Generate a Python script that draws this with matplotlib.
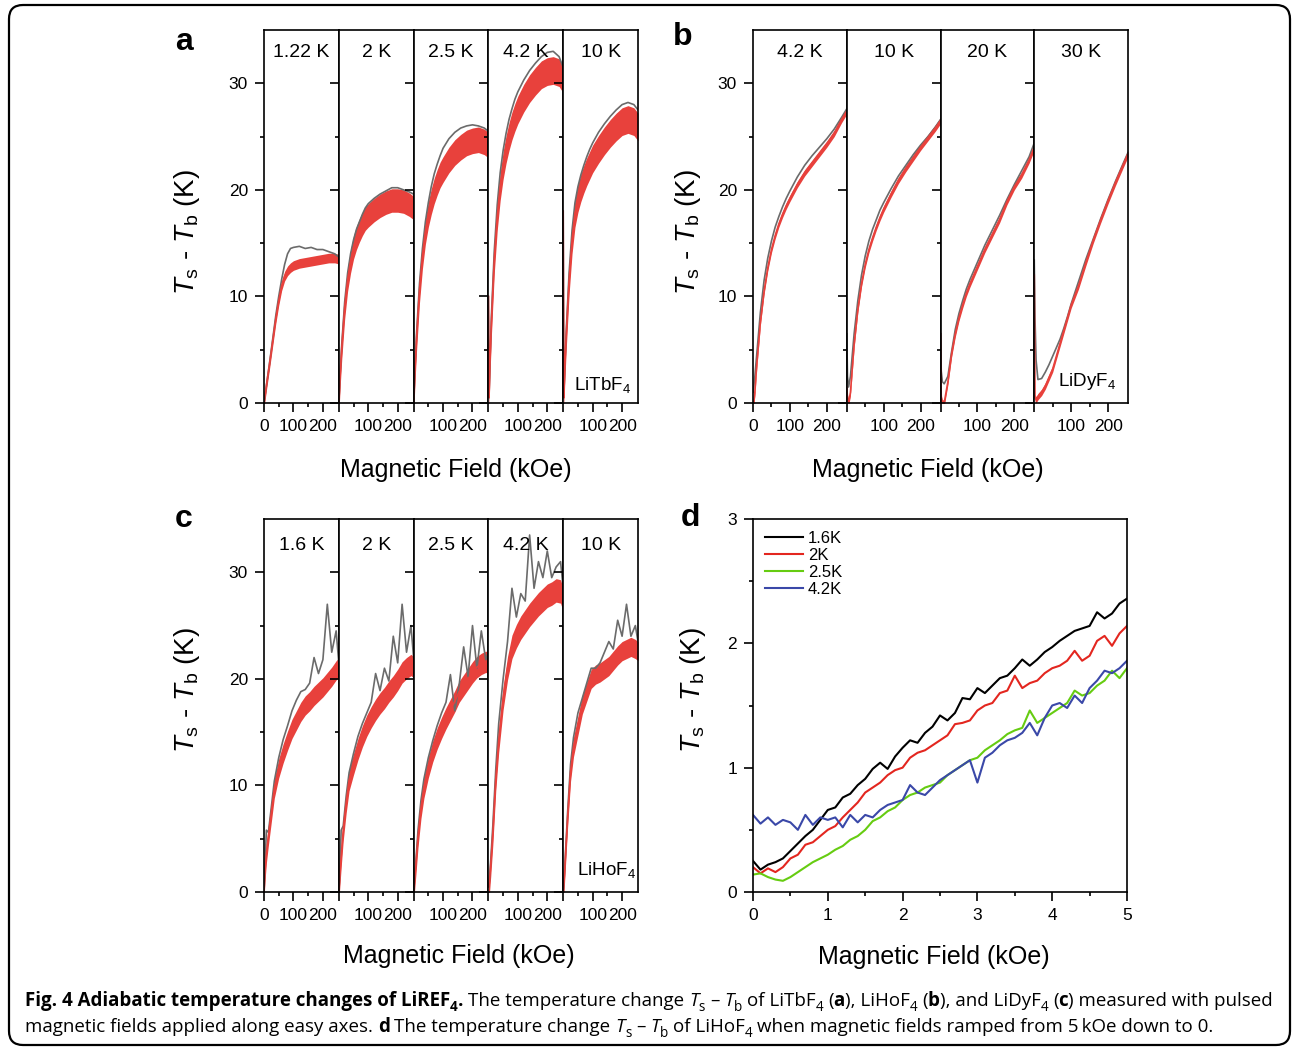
import numpy as np
import matplotlib
matplotlib.use('Agg')
import matplotlib.pyplot as plt
from matplotlib.patches import FancyBboxPatch
from matplotlib.transforms import IdentityTransform

plt.rcParams['font.family'] = ['Liberation Sans', 'DejaVu Sans']
plt.rcParams['mathtext.fontset'] = 'custom'
plt.rcParams['mathtext.rm'] = 'Liberation Sans'
plt.rcParams['mathtext.it'] = 'Liberation Sans:italic'
plt.rcParams['mathtext.bf'] = 'Liberation Sans:bold'

# ---- data ----
# field grid (kOe) for the pulsed-field panels a and b
field_ab = [0, 2, 5, 10, 20, 30, 40, 50, 60, 70, 80, 90, 100, 120, 140, 160, 180, 200, 220, 240, 254]

# panel a: LiTbF4
temps_a = ['1.22 K', '2 K', '2.5 K', '4.2 K', '10 K']
a_122_gray = [0, 0.4, 1.0, 2.0, 4.0, 6.1, 8.2, 10.0, 11.6, 13.0, 14.0, 14.5, 14.6, 14.7, 14.5, 14.6, 14.4, 14.4, 14.2, 14.0, 13.7]
a_122_red = [0, 0.4, 1.0, 2.0, 3.9, 5.9, 7.9, 9.6, 11.0, 11.9, 12.4, 12.7, 12.9, 13.1, 13.2, 13.3, 13.4, 13.5, 13.6, 13.6, 13.5]
a_2_gray = [0, 1.2, 3.0, 5.5, 9.5, 12.2, 14.0, 15.3, 16.3, 17.0, 17.7, 18.3, 18.7, 19.2, 19.6, 19.9, 20.2, 20.2, 20.0, 19.8, 19.6]
a_2_red = [0, 1.1, 2.8, 5.2, 9.0, 11.6, 13.3, 14.6, 15.5, 16.2, 16.8, 17.3, 17.6, 18.1, 18.5, 18.8, 19.0, 19.0, 18.9, 18.6, 18.3]
a_25_gray = [0, 1.4, 3.5, 6.5, 11.2, 14.5, 17.0, 18.8, 20.3, 21.5, 22.4, 23.2, 23.9, 24.8, 25.4, 25.8, 26.0, 26.1, 26.0, 25.8, 25.5]
a_25_red = [0, 1.3, 3.3, 6.1, 10.6, 13.8, 16.1, 17.7, 18.9, 19.9, 20.7, 21.4, 21.9, 22.8, 23.5, 24.0, 24.4, 24.6, 24.7, 24.5, 24.2]
a_42_gray = [10, 0.5, 3.8, 8.0, 14.3, 18.6, 21.6, 23.7, 25.3, 26.6, 27.6, 28.5, 29.2, 30.3, 31.2, 31.9, 32.5, 32.9, 33.0, 32.5, 31.5]
a_42_red = [10, 0.5, 3.5, 7.5, 13.5, 17.5, 20.3, 22.3, 23.8, 25.0, 26.0, 26.8, 27.5, 28.6, 29.5, 30.2, 30.8, 31.1, 31.2, 31.0, 30.4]
a_10_gray = [18, 0.5, 3.2, 6.6, 12.2, 16.2, 18.8, 20.3, 21.4, 22.3, 23.1, 23.8, 24.4, 25.4, 26.2, 26.9, 27.5, 28.0, 28.2, 28.0, 27.5]
a_10_red = [18, 0.5, 3.0, 6.2, 11.5, 15.3, 17.8, 19.2, 20.2, 21.0, 21.7, 22.3, 22.9, 23.8, 24.6, 25.3, 25.9, 26.4, 26.6, 26.4, 25.9]
a_noise = [0.45, 1.1, 1.2, 1.3, 1.3]   # half width of the red noise band

# panel b: LiDyF4
temps_b = ['4.2 K', '10 K', '20 K', '30 K']
b_42_gray = [1.0, 1.5, 2.5, 4.5, 8.5, 11.5, 13.6, 15.2, 16.5, 17.5, 18.4, 19.2, 19.9, 21.2, 22.3, 23.2, 24.0, 24.8, 25.7, 26.8, 27.6]
b_42_red = [0, 0, 1.0, 3.5, 7.6, 10.5, 12.7, 14.4, 15.7, 16.8, 17.7, 18.5, 19.2, 20.5, 21.6, 22.5, 23.4, 24.3, 25.3, 26.6, 27.4]
b_10_gray = [6.5, 2.5, 1.5, 2.5, 6.5, 9.6, 12.0, 13.8, 15.2, 16.3, 17.2, 18.1, 18.8, 20.1, 21.3, 22.3, 23.3, 24.2, 25.0, 25.9, 26.6]
b_10_red = [1.5, 0.5, 0, 1.0, 5.5, 8.8, 11.2, 13.0, 14.4, 15.5, 16.5, 17.4, 18.2, 19.6, 20.9, 22.0, 23.0, 24.0, 24.9, 25.8, 26.5]
b_20_gray = [6.5, 3.0, 2.0, 1.8, 2.5, 4.8, 6.9, 8.4, 9.6, 10.7, 11.6, 12.4, 13.2, 14.8, 16.2, 17.6, 19.1, 20.5, 21.8, 23.1, 24.4]
b_20_red = [6.5, 0.5, 0, 0, 2.0, 4.6, 6.5, 8.0, 9.2, 10.3, 11.2, 12.0, 12.8, 14.4, 15.8, 17.2, 18.9, 20.3, 21.4, 22.8, 24.0]
b_30_gray = [13.4, 8.0, 4.0, 2.2, 2.3, 2.9, 3.6, 4.4, 5.2, 6.0, 7.0, 8.1, 9.3, 11.4, 13.5, 15.4, 17.3, 19.1, 20.8, 22.4, 23.5]
b_30_red = [12.0, 0.5, 0.3, 0.6, 1.0, 1.6, 2.4, 3.2, 4.4, 5.6, 6.8, 8.0, 9.2, 11.0, 13.2, 15.3, 17.2, 19.0, 20.7, 22.3, 23.4]
b_noise = [0.3, 0.3, 0.3, 0.3]

# panel c: LiHoF4 (own field grid)
field_c = [0, 3, 8, 15, 25, 35, 50, 65, 80, 95, 110, 125, 140, 155, 170, 185, 200, 215, 230, 245, 254]
temps_c = ['1.6 K', '2 K', '2.5 K', '4.2 K', '10 K']
c_16_gray = [0, 2.0, 5.8, 5.6, 8.0, 10.4, 12.6, 14.3, 15.6, 17.0, 18.0, 18.8, 19.0, 19.6, 22.0, 20.5, 21.8, 27.0, 22.5, 24.5, 21.5]
c_16_red = [0, 1.8, 3.6, 5.3, 7.5, 9.7, 11.6, 13.0, 14.2, 15.3, 16.1, 16.9, 17.5, 17.9, 18.4, 18.8, 19.2, 19.7, 20.2, 20.8, 21.1]
c_2_gray = [0, 1.5, 5.8, 6.2, 9.0, 11.2, 13.0, 14.6, 15.8, 16.8, 17.8, 20.5, 18.9, 21.0, 19.8, 24.0, 21.5, 27.0, 22.5, 25.0, 22.0]
c_2_red = [0, 1.3, 3.3, 5.8, 8.4, 10.5, 12.0, 13.4, 14.6, 15.6, 16.4, 17.1, 17.7, 18.2, 18.8, 19.3, 19.9, 20.6, 21.0, 21.3, 21.1]
c_25_gray = [0, 1.2, 3.0, 5.8, 8.6, 10.6, 12.6, 14.2, 15.6, 16.8, 17.8, 20.4, 17.0, 19.5, 23.0, 20.2, 25.0, 21.0, 24.5, 21.8, 22.5]
c_25_red = [0, 1.0, 2.7, 5.2, 7.9, 9.8, 11.7, 13.2, 14.4, 15.4, 16.3, 17.1, 17.9, 18.8, 19.4, 20.0, 20.6, 21.1, 21.4, 21.6, 21.5]
c_42_gray = [0.5, 1.0, 3.0, 6.2, 11.5, 15.8, 20.0, 23.5, 28.5, 25.8, 28.0, 27.3, 33.5, 28.5, 31.0, 29.5, 32.0, 29.5, 30.5, 31.0, 28.5]
c_42_red = [0.5, 0.8, 2.6, 5.5, 10.6, 14.2, 18.2, 21.0, 23.0, 24.0, 24.8, 25.4, 26.0, 26.5, 27.0, 27.4, 27.8, 28.0, 28.3, 28.2, 27.4]
c_10_gray = [0, 1.2, 3.8, 7.5, 12.0, 14.5, 16.8, 18.2, 19.6, 21.0, 21.0, 21.5, 22.5, 23.5, 22.8, 25.5, 24.0, 27.0, 24.0, 25.0, 23.5]
c_10_red = [0, 1.0, 3.5, 7.0, 11.3, 13.6, 15.6, 17.6, 18.8, 20.0, 20.4, 20.6, 20.9, 21.2, 21.7, 22.2, 22.6, 22.8, 23.0, 22.8, 22.6]
c_noise = [0.9, 1.0, 1.0, 1.1, 0.9]

# panel d: LiHoF4, field ramped 5 kOe -> 0
field_d = [round(0.1 * i, 1) for i in range(51)]
d_16 = [0.25, 0.18, 0.22, 0.24, 0.27, 0.33, 0.39, 0.45, 0.50, 0.58, 0.66, 0.68, 0.76, 0.79, 0.86, 0.91, 0.99,
        1.04, 0.99, 1.09, 1.16, 1.22, 1.20, 1.28, 1.33, 1.42, 1.38, 1.44, 1.56, 1.55, 1.64, 1.60, 1.66, 1.72,
        1.74, 1.80, 1.87, 1.82, 1.87, 1.93, 1.97, 2.02, 2.06, 2.10, 2.12, 2.14, 2.25, 2.20, 2.24, 2.32, 2.36]
d_2 = [0.20, 0.15, 0.19, 0.16, 0.20, 0.27, 0.30, 0.38, 0.40, 0.45, 0.50, 0.53, 0.60, 0.66, 0.72, 0.80, 0.84,
       0.88, 0.94, 0.98, 1.00, 1.08, 1.12, 1.14, 1.18, 1.22, 1.26, 1.35, 1.36, 1.38, 1.46, 1.50, 1.52, 1.60,
       1.62, 1.74, 1.64, 1.68, 1.70, 1.76, 1.80, 1.82, 1.86, 1.94, 1.86, 1.90, 2.02, 2.06, 1.98, 2.08, 2.14]
d_25 = [0.14, 0.15, 0.12, 0.10, 0.09, 0.12, 0.16, 0.20, 0.24, 0.27, 0.30, 0.34, 0.37, 0.42, 0.45, 0.50, 0.57,
        0.60, 0.65, 0.68, 0.74, 0.78, 0.80, 0.84, 0.86, 0.88, 0.94, 0.98, 1.02, 1.06, 1.08, 1.14, 1.18, 1.22,
        1.27, 1.30, 1.32, 1.46, 1.36, 1.40, 1.44, 1.48, 1.52, 1.62, 1.58, 1.60, 1.66, 1.70, 1.78, 1.72, 1.80]
d_42 = [0.62, 0.55, 0.60, 0.54, 0.58, 0.56, 0.50, 0.62, 0.54, 0.60, 0.58, 0.60, 0.52, 0.62, 0.56, 0.62, 0.60,
        0.66, 0.70, 0.72, 0.74, 0.86, 0.80, 0.78, 0.84, 0.90, 0.94, 0.98, 1.02, 1.06, 0.88, 1.08, 1.12, 1.18,
        1.22, 1.24, 1.28, 1.36, 1.26, 1.40, 1.50, 1.52, 1.48, 1.58, 1.52, 1.64, 1.70, 1.78, 1.76, 1.80, 1.86]
d_labels = ['1.6K', '2K', '2.5K', '4.2K']

RED = '#e8413c'
GRAY = '#6b6b6b'

W, H = 1293, 1049
fig = plt.figure(figsize=(W / 100, H / 100), dpi=100)
PIX = IdentityTransform()


def box(l, r, t, b):
    return [l / W, 1 - b / H, (r - l) / W, (b - t) / H]


def style_ticks(ax):
    for s in ax.spines.values():
        s.set_linewidth(1.2)
    ax.tick_params(which='both', direction='out', top=False, right=False, width=1.2, labelsize=12.5, pad=5)
    ax.tick_params(which='major', length=6.5)
    ax.tick_params(which='minor', length=3.2)


def pulsed_panel(l, r, t, b, field, temps, grays, reds, noise, mat, mat_pos, temp_y):
    n = len(temps)
    w = (r - l) / n
    for i in range(n):
        ax = fig.add_axes(box(l + i * w, l + (i + 1) * w, t, b))
        g = np.array(grays[i])
        rd = np.array(reds[i])
        ax.plot(field, g, color=GRAY, lw=1.2)
        ax.fill_between(field, rd - noise[i], rd + noise[i], color=RED, lw=0)
        ax.plot(field, rd, color=RED, lw=1.2)
        ax.set_xlim(0, 254)
        ax.set_ylim(0, 35)
        ax.set_xticks([0, 100, 200])
        ax.set_xticks([50, 150], minor=True)
        ax.set_xticklabels(['0' if i == 0 else '', '100', '200'])
        ax.set_yticks([0, 10, 20, 30])
        ax.set_yticks([5, 15, 25], minor=True)
        style_ticks(ax)
        if i > 0:
            ax.tick_params(axis='y', labelleft=False)
        ax.text(0.5, temp_y, temps[i], transform=ax.transAxes, ha='center', va='center', fontsize=14)
        if i == n - 1:
            ax.text(mat_pos[0], mat_pos[1], mat, transform=ax.transAxes, ha='right', va='baseline', fontsize=13.5)


pulsed_panel(264, 638, 30, 403, field_ab, temps_a,
             [a_122_gray, a_2_gray, a_25_gray, a_42_gray, a_10_gray],
             [a_122_red, a_2_red, a_25_red, a_42_red, a_10_red], a_noise,
             r'LiTbF$_\mathrm{4}$', (0.90, 0.035), 0.939)
pulsed_panel(753, 1128, 30, 403, field_ab, temps_b,
             [b_42_gray, b_10_gray, b_20_gray, b_30_gray],
             [b_42_red, b_10_red, b_20_red, b_30_red], b_noise,
             r'LiDyF$_\mathrm{4}$', (0.87, 0.045), 0.939)
pulsed_panel(264, 638, 519, 892, field_c, temps_c,
             [c_16_gray, c_2_gray, c_25_gray, c_42_gray, c_10_gray],
             [c_16_red, c_2_red, c_25_red, c_42_red, c_10_red], c_noise,
             r'LiHoF$_\mathrm{4}$', (0.97, 0.045), 0.930)

# panel d
axd = fig.add_axes(box(753, 1127, 519, 892))
for y, c, lab in zip([d_16, d_2, d_25, d_42], ['#000000', '#e3261f', '#66cc11', '#3a48a8'], d_labels):
    axd.plot(field_d, y, color=c, lw=1.5, label=lab)
axd.set_xlim(0, 5)
axd.set_ylim(0, 3)
axd.set_xticks([0, 1, 2, 3, 4, 5])
axd.set_xticks([0.5, 1.5, 2.5, 3.5, 4.5], minor=True)
axd.set_yticks([0, 1, 2, 3])
axd.set_yticks([0.5, 1.5, 2.5], minor=True)
style_ticks(axd)
axd.legend(loc='upper left', frameon=False, fontsize=12, handlelength=2.3, handletextpad=0.3,
           labelspacing=0.12, borderaxespad=0.3, borderpad=0.4)

# axis labels and panel letters
ylab = r'$T_\mathrm{s}$ - $T_\mathrm{b}$ (K)'
for x, y in [(187, 232), (688, 232), (187, 690), (693, 690)]:
    fig.text(x, H - y, ylab, transform=PIX, rotation=90, ha='center', va='center', fontsize=20)
for x, y in [(456, 470), (928, 470), (459, 956), (934, 957)]:
    fig.text(x, H - y, 'Magnetic Field (kOe)', transform=PIX, ha='center', va='center', fontsize=18)
for lt, x, y in [('a', 184, 50), ('b', 683, 45), ('c', 184, 527), ('d', 690, 526)]:
    fig.text(x, H - y, lt, transform=PIX, ha='center', va='baseline', fontsize=23, fontweight='bold')

# outer frame
fig.patches.append(FancyBboxPatch((9, 4), 1281, 1040, boxstyle='round,pad=0,rounding_size=14',
                                  transform=PIX, fill=False, ec='black', lw=1.6))

# caption
renderer = fig.canvas.get_renderer()


def font_props(kind, size):
    return dict(fontfamily='Open Sans', fontsize=size * 0.72 if 's' in kind else size,
                fontweight='bold' if 'b' in kind else 'normal',
                fontstyle='italic' if 'i' in kind else 'normal')


def text_width(s, props):
    t = fig.text(0, 0, s, transform=PIX, **props)
    wd = t.get_window_extent(renderer).width
    t.remove()
    return wd


def caption_line(x, ytop, pieces, size):
    y = H - ytop
    for txt, kind in pieces:
        props = font_props(kind, size)
        sp = text_width('a a', props) - text_width('aa', props)
        core = txt.strip(' ')
        lead = len(txt) - len(txt.lstrip(' '))
        trail = len(txt) - len(txt.rstrip(' '))
        x += lead * sp
        dy = -size * 0.28 * 100 / 72 if 's' in kind else 0
        t = fig.text(x, y + dy, core, transform=PIX, ha='left', va='baseline', **props)
        x += t.get_window_extent(renderer).width + trail * sp


cap1 = [('Fig. 4 Adiabatic temperature changes of LiREF', 'b'), ('4', 'bs'), ('.', 'b'),
        (' The temperature change ', 'r'), ('T', 'i'), ('s', 's'), (' \u2013 ', 'r'), ('T', 'i'), ('b', 's'),
        (' of LiTbF', 'r'), ('4', 's'), (' (', 'r'), ('a', 'b'), ('), LiHoF', 'r'), ('4', 's'), (' (', 'r'),
        ('b', 'b'), ('), and LiDyF', 'r'), ('4', 's'), (' (', 'r'), ('c', 'b'), (') measured with pulsed', 'r')]
cap2 = [('magnetic fields applied along easy axes. ', 'r'), ('d', 'b'), (' The temperature change ', 'r'),
        ('T', 'i'), ('s', 's'), (' \u2013 ', 'r'), ('T', 'i'), ('b', 's'), (' of LiHoF', 'r'), ('4', 's'),
        (' when magnetic fields ramped from 5\u2009kOe down to 0.', 'r')]
caption_line(25, 1006, cap1, 13.5)
caption_line(25, 1032, cap2, 13.5)

fig.savefig('out.png', dpi=100)
